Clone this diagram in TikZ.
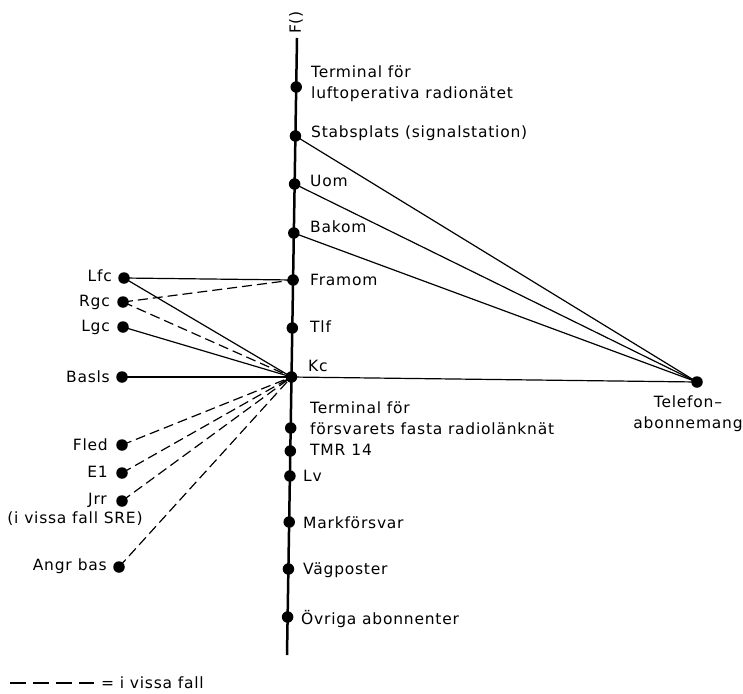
\documentclass[tikz,border=0pt]{standalone}
\usepackage{fontspec}
\setmainfont{DejaVu Sans}[LetterSpace=5]
\begin{document}
\begin{tikzpicture}[x=1pt,y=-1pt,
  dot/.style={circle,fill=black,inner sep=0pt,minimum size=11.5pt},
  lab/.style={font=\fontsize{15.5}{21}\selectfont,inner sep=0pt,align=left},
  rlab/.style={font=\fontsize{15.5}{21}\selectfont,inner sep=0pt,anchor=east},
  conn/.style={line width=1.2pt},
  dconn/.style={line width=1.2pt,dash pattern=on 10pt off 5pt},
  main/.style={line width=2.5pt}]
\useasboundingbox (0,0) rectangle (743,693);
% main line
\coordinate (top) at (297,38);
\coordinate (bot) at (287,655);
\draw[main] (top) -- (bot);
\node[lab,rotate=90,anchor=west] (F) at (296,34) {F()};
% right-side dots on main line
\node[dot] (t1) at (296.2,87) {};
\node[dot] (stab) at (295.4,136) {};
\node[dot] (uom) at (294.6,184) {};
\node[dot] (bakom) at (293.8,233) {};
\node[dot] (framom) at (293.1,280) {};
\node[dot] (tlf) at (292.3,328) {};
\node[dot] (kc) at (291.5,377) {};
\node[dot] (t2) at (290.7,428) {};
\node[dot] (tmr) at (290.3,451) {};
\node[dot] (lv) at (289.9,476) {};
\node[dot] (mark) at (289.2,522) {};
\node[dot] (vag) at (288.4,569) {};
\node[dot] (ovr) at (287.6,617) {};
% labels
\node[lab,anchor=west] (lt1) at (311,84) {Terminal för\\luftoperativa radionätet};
\node[lab,anchor=west] (lstab) at (311,133) {Stabsplats (signalstation)};
\node[lab,anchor=west] (luom) at (310,181) {Uom};
\node[lab,anchor=west] (lbakom) at (310,227) {Bakom};
\node[lab,anchor=west] (lframom) at (310,280) {Framom};
\node[lab,anchor=west] (ltlf) at (310,327) {Tlf};
\node[lab,anchor=west] (lkc) at (308,366) {Kc};
\node[lab,anchor=west] (lt2) at (310,418) {Terminal för\\försvarets fasta radiolänknät};
\node[lab,anchor=west] (ltmr) at (310,450) {TMR\hspace{6pt}14};
\node[lab,anchor=west] (llv) at (303,476) {Lv};
\node[lab,anchor=west] (lmark) at (303,523) {Markförsvar};
\node[lab,anchor=west] (lvag) at (303,570) {Vägposter};
\node[lab,anchor=west] (lovr) at (301,619) {Övriga abonnenter};
% left nodes
\node[dot] (lfc) at (124,278) {};
\node[dot] (rgc) at (123,302) {};
\node[dot] (lgc) at (123,327) {};
\node[dot] (basls) at (122,377) {};
\node[dot] (fled) at (122,445) {};
\node[dot] (e1) at (122,473) {};
\node[dot] (jrr) at (122,501) {};
\node[dot] (angr) at (119,567) {};
\node[rlab] (llfc) at (112,276) {Lfc};
\node[rlab] (lrgc) at (110,302) {Rgc};
\node[rlab] (llgc) at (110,327) {Lgc};
\node[rlab] (lbasls) at (110,377) {Basls};
\node[rlab] (lfled) at (108,445) {Fled};
\node[rlab] (le1) at (108,472) {E1};
\node[rlab] (ljrr) at (107,500) {Jrr};
\node[lab] (lsre) at (75,519) {(i vissa fall SRE)};
\node[rlab] (langr) at (107,566) {Angr\hspace{6pt}bas};
% telefon
\node[dot] (tel) at (697,382) {};
\node[lab,align=center,anchor=north] (ltel) at (688,396) {Telefon–\\abonnemang};
% connectors
\draw[conn] (lfc.center) -- (framom.center);
\draw[conn] (lfc.center) -- (kc.center);
\draw[dconn] (rgc.center) -- (framom.center);
\draw[dconn] (rgc.center) -- (kc.center);
\draw[conn] (lgc.center) -- (kc.center);
\draw[conn] (basls.center) -- (kc.center);
\draw[dconn] (fled.center) -- (kc.center);
\draw[dconn] (e1.center) -- (kc.center);
\draw[dconn] (jrr.center) -- (kc.center);
\draw[dconn] (angr.center) -- (kc.center);
\draw[conn] (stab.center) -- (tel.center);
\draw[conn] (uom.center) -- (tel.center);
\draw[conn] (bakom.center) -- (tel.center);
\draw[conn] (kc.center) -- (tel.center);
% legend
\coordinate (la) at (10,683);
\coordinate (lb) at (94,683);
\draw[line width=1.4pt,dash pattern=on 16pt off 7pt] (la) -- (lb);
\node[lab,anchor=west] (leg) at (101,683) {= i vissa fall};
\end{tikzpicture}
\end{document}
